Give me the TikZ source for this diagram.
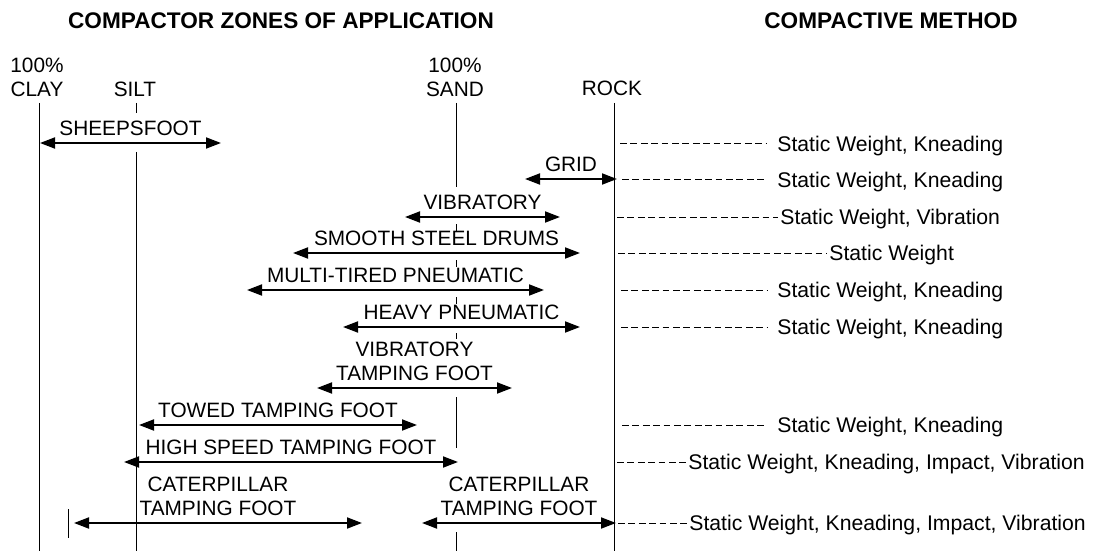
\documentclass[tikz,border=0pt]{standalone}
\usepackage{fontspec}
\setmainfont{Liberation Sans}
\usetikzlibrary{arrows.meta,positioning}
\tikzset{
  zone/.style={line width=0.5pt,black},
  rng/.style={{Triangle[length=7.5pt,width=5.5pt]}-{Triangle[length=7.5pt,width=5.5pt]},line width=0.9pt},
  lbl/.style={font=\fontsize{10.4}{12}\selectfont,inner sep=1pt,align=center},
  meth/.style={font=\fontsize{10.6}{12}\selectfont,anchor=west,inner sep=1pt,text depth=0pt},
  lead/.style={dash pattern=on 3.4pt off 1.8pt,line width=0.5pt},
  head/.style={font=\bfseries\fontsize{11.3}{13}\selectfont,inner sep=0pt}
}

\begin{document}
\begin{tikzpicture}[x=0.5pt,y=-0.5pt]
\useasboundingbox (0,0) rectangle (1093,551);
% headings
\node[head] (hzone) at (281,21) {COMPACTOR ZONES OF APPLICATION};
\node[head] (hmeth) at (891,21) {COMPACTIVE METHOD};
% soil columns
\node[lbl] (clay) at (37,77) {100\%\\CLAY};
\node[lbl] (silt) at (135,89) {SILT};
\node[lbl] (sand) at (455,77) {100\%\\SAND};
\node[lbl] (rock) at (612,88) {ROCK};
\draw[zone] (39,103) -- (39,551);
\draw[zone] (136,103) -- (136,113) (136,152) -- (136,551);
\draw[zone] (456,103) -- (456,187) (456,224) -- (456,231) (456,260) -- (456,267)
  (456,297) -- (456,304) (456,333) -- (456,339) (456,397) -- (456,448) (456,532) -- (456,551);
\draw[zone] (614,103) -- (614,551);
\draw[zone] (68,509) -- (68,538);
% compactor ranges
\foreach \n/\xa/\xb/\y/\txt in {
  sheep/40/221/143/SHEEPSFOOT,
  grid/525/617/179/GRID,
  vib/405/560/217/VIBRATORY,
  drum/293/580/253/SMOOTH STEEL DRUMS,
  multi/247/544/290/MULTI-TIRED PNEUMATIC,
  heavy/343/580/327/HEAVY PNEUMATIC,
  vtamp/317/512/388/{VIBRATORY\\TAMPING FOOT},
  towed/139/417/425/TOWED TAMPING FOOT,
  hspeed/124/458/462/HIGH SPEED TAMPING FOOT,
  catl/74/362/523/{CATERPILLAR\\TAMPING FOOT},
  catr/422/616/523/{CATERPILLAR\\TAMPING FOOT}}{
  \coordinate (\n-l) at (\xa,\y);
  \coordinate (\n-r) at (\xb,\y);
  \draw[rng] (\n-l) -- (\n-r) node[lbl,midway,above=2pt] (\n) {\txt};
}
% compactive methods
\foreach \n/\y/\xs/\xt/\sh/\txt in {
  m1/144/620/775/4/{Static Weight, Kneading},
  m2/180/622/775/4/{Static Weight, Kneading},
  m3/217/617/778/0/{Static Weight, Vibration},
  m4/253/618/827/0/{Static Weight},
  m5/290/621/775/4/{Static Weight, Kneading},
  m6/327/621/775/4/{Static Weight, Kneading},
  m7/425/622/775/4/{Static Weight, Kneading},
  m8/462/617/686/0/{Static Weight, Kneading, Impact, Vibration},
  m9/523/618/687/0/{Static Weight, Kneading, Impact, Vibration}}{
  \node[meth] (\n) at (\xt,\y) {\txt};
  \coordinate (\n-s) at (\xs,\y);
  \draw[lead,shorten >=\sh pt] (\n-s) -- (\n.west);
}
\end{tikzpicture}
\end{document}
